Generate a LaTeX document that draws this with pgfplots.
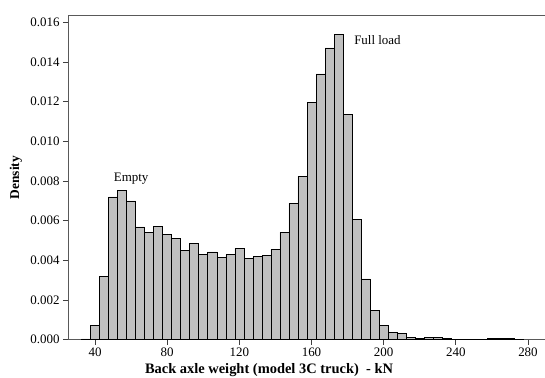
\documentclass[border=0pt]{standalone}
\usepackage{fontspec}
\setmainfont{Liberation Serif}
\usepackage{pgfplots}
\pgfplotsset{compat=1.18}
\definecolor{barfill}{RGB}{192,192,192}
\begin{document}
\begin{tikzpicture}
\begin{axis}[
  scale only axis, width=478bp, height=324bp,
  xmin=25, xmax=290, ymin=0, ymax=0.01633,
  axis line style={draw=black!65, line width=0.8pt},
  xtick={40,80,120,160,200,240,280},
  ytick={0,0.002,0.004,0.006,0.008,0.010,0.012,0.014,0.016},
  xtick pos=left, ytick pos=left,
  tick align=outside, major tick length=5bp,
  tick style={black!75, line width=0.8pt},
  scaled y ticks=false,
  yticklabel style={/pgf/number format/.cd, fixed, fixed zerofill, precision=3},
  /pgf/number format/assume math mode=true,
  ticklabel style={font=\fontsize{13}{15}\selectfont},
  xlabel={Back axle weight (model 3C truck) \ - kN},
  ylabel={Density},
  xlabel style={font=\bfseries\fontsize{14.5}{16}\selectfont, at={(rel axis cs:0.4205,0)}, anchor=base, yshift=-34bp},
  ylabel style={font=\bfseries\fontsize{13.5}{15}\selectfont, at={(rel axis cs:0,0.5)}, anchor=center, yshift=52bp},
  ybar, bar width=5,
]
\addplot[draw=black, fill=barfill, line width=0.6pt] coordinates {
(35,0.00004) (40,0.00073) (45,0.00321) (50,0.00720) (55,0.00754) (60,0.00700)
(65,0.00569) (70,0.00541) (75,0.00573) (80,0.00531) (85,0.00511) (90,0.00452)
(95,0.00486) (100,0.00428) (105,0.00443) (110,0.00413) (115,0.00428) (120,0.00460)
(125,0.00408) (130,0.00418) (135,0.00423) (140,0.00457) (145,0.00541) (150,0.00687)
(155,0.00823) (160,0.01197) (165,0.01340) (170,0.01471) (175,0.01537) (180,0.01135)
(185,0.00608) (190,0.00306) (195,0.00146) (200,0.00072) (205,0.00038) (210,0.00031)
(215,0.00013) (220,0.00007) (225,0.00013) (230,0.00013) (235,0.00007) (240,0.00002)
(245,0.00001) (250,0.00001) (255,0.00001) (260,0.00005) (265,0.00005) (270,0.00005)
(275,0.00001)
};
\node[font=\fontsize{13}{15}\selectfont, inner sep=0pt, anchor=center] at (axis cs:60,0.0081) {Empty};
\node[font=\fontsize{13}{15}\selectfont, inner sep=0pt, anchor=west] at (axis cs:183.6,0.0151) {Full load};
\end{axis}
\pgfresetboundingbox
\path[use as bounding box] ([shift={(-68bp,-38.3bp)}]current axis.south west) rectangle ([shift={(-1bp,15.7bp)}]current axis.north east);
\end{tikzpicture}
\end{document}
